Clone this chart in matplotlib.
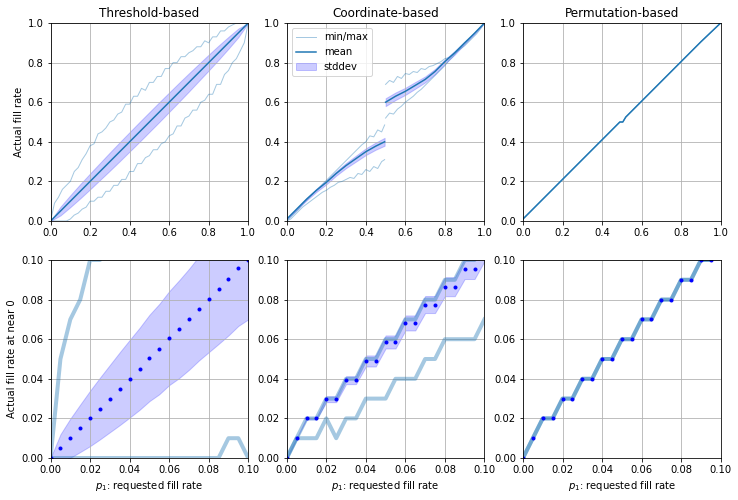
import matplotlib
matplotlib.use("Agg")
import matplotlib.pyplot as plt

# ---- top row: full range of requested fill rate ----
# threshold-based
thr_x = [0.0, 0.05, 0.1, 0.15, 0.2, 0.25, 0.3, 0.35, 0.4, 0.45, 0.5,
         0.55, 0.6, 0.65, 0.7, 0.75, 0.8, 0.85, 0.9, 0.95, 1.0]
thr_mean = [0.0, 0.05, 0.1, 0.15, 0.2, 0.25, 0.3, 0.35, 0.4, 0.45, 0.5,
            0.55, 0.6, 0.65, 0.7, 0.75, 0.8, 0.85, 0.9, 0.95, 1.0]
thr_std = [0.0, 0.022, 0.03, 0.036, 0.04, 0.043, 0.046, 0.048, 0.049, 0.05, 0.05,
           0.05, 0.049, 0.048, 0.046, 0.043, 0.04, 0.036, 0.03, 0.022, 0.0]
mm_x = [0.0, 0.02, 0.04, 0.06, 0.08, 0.1, 0.12, 0.14, 0.16, 0.18, 0.2, 0.22, 0.24,
        0.26, 0.28, 0.3, 0.32, 0.34, 0.36, 0.38, 0.4, 0.42, 0.44, 0.46, 0.48, 0.5,
        0.52, 0.54, 0.56, 0.58, 0.6, 0.62, 0.64, 0.66, 0.68, 0.7, 0.72, 0.74, 0.76,
        0.78, 0.8, 0.82, 0.84, 0.86, 0.88, 0.9, 0.92, 0.94, 0.96, 0.98, 1.0]
thr_max = [0.0, 0.09, 0.12, 0.16, 0.18, 0.2, 0.25, 0.27, 0.31, 0.34, 0.38, 0.39, 0.44,
           0.45, 0.47, 0.5, 0.51, 0.54, 0.55, 0.59, 0.59, 0.63, 0.63, 0.67, 0.66, 0.7,
           0.7, 0.73, 0.73, 0.77, 0.77, 0.8, 0.8, 0.83, 0.83, 0.85, 0.86, 0.88, 0.88,
           0.91, 0.9, 0.93, 0.93, 0.96, 0.96, 0.98, 0.99, 1.0, 1.0, 1.0, 1.0]
thr_min = [0.0, 0.0, 0.0, 0.0, 0.0, 0.01, 0.03, 0.04, 0.06, 0.07, 0.1, 0.1, 0.12,
           0.12, 0.15, 0.15, 0.18, 0.18, 0.21, 0.21, 0.25, 0.25, 0.29, 0.29, 0.32, 0.33,
           0.36, 0.36, 0.39, 0.4, 0.43, 0.44, 0.48, 0.48, 0.52, 0.53, 0.56, 0.56, 0.6,
           0.61, 0.64, 0.64, 0.69, 0.69, 0.74, 0.76, 0.8, 0.82, 0.86, 0.9, 1.0]

# coordinate-based, two pieces split at 0.5
crd_x1 = [0.0, 0.05, 0.1, 0.15, 0.2, 0.25, 0.3, 0.35, 0.4, 0.45, 0.495]
crd_mean1 = [0.01, 0.06, 0.11, 0.155, 0.195, 0.24, 0.28, 0.315, 0.35, 0.378, 0.4]
crd_std1 = [0.002, 0.004, 0.006, 0.008, 0.01, 0.011, 0.013, 0.015, 0.017, 0.018, 0.02]
crd_x2 = [0.5, 0.55, 0.6, 0.65, 0.7, 0.75, 0.8, 0.85, 0.9, 0.95, 1.0]
crd_mean2 = [0.6, 0.63, 0.655, 0.685, 0.715, 0.755, 0.805, 0.85, 0.9, 0.948, 1.0]
crd_std2 = [0.02, 0.019, 0.018, 0.017, 0.015, 0.013, 0.011, 0.009, 0.006, 0.003, 0.0]
crd_mx1 = [0.0, 0.02, 0.04, 0.06, 0.08, 0.1, 0.12, 0.14, 0.16, 0.18, 0.2, 0.22, 0.24,
           0.26, 0.28, 0.3, 0.32, 0.34, 0.36, 0.38, 0.4, 0.42, 0.44, 0.46, 0.48, 0.495]
crd_max1 = [0.0, 0.02, 0.04, 0.06, 0.085, 0.105, 0.125, 0.145, 0.165, 0.185, 0.205,
            0.225, 0.245, 0.265, 0.285, 0.305, 0.325, 0.345, 0.365, 0.385, 0.4, 0.43,
            0.425, 0.46, 0.45, 0.485]
crd_min1 = [0.0, 0.01, 0.03, 0.05, 0.07, 0.085, 0.1, 0.115, 0.13, 0.145, 0.155, 0.17,
            0.18, 0.195, 0.2, 0.21, 0.22, 0.215, 0.24, 0.235, 0.26, 0.25, 0.275, 0.265,
            0.3, 0.31]
crd_mx2 = [0.5, 0.52, 0.54, 0.56, 0.58, 0.6, 0.62, 0.64, 0.66, 0.68, 0.7, 0.72, 0.74,
           0.76, 0.78, 0.8, 0.82, 0.84, 0.86, 0.88, 0.9, 0.92, 0.94, 0.96, 0.98, 1.0]
crd_max2 = [0.69, 0.71, 0.7, 0.73, 0.72, 0.745, 0.74, 0.755, 0.75, 0.77, 0.765, 0.78,
            0.785, 0.795, 0.805, 0.82, 0.825, 0.84, 0.855, 0.87, 0.885, 0.905, 0.925,
            0.945, 0.97, 1.0]
crd_min2 = [0.52, 0.545, 0.54, 0.565, 0.58, 0.6, 0.615, 0.63, 0.65, 0.665, 0.685, 0.705,
            0.725, 0.745, 0.765, 0.785, 0.81, 0.83, 0.855, 0.875, 0.895, 0.915, 0.94,
            0.96, 0.98, 1.0]

# permutation-based (min = max = mean, std = 0)
prm_x = [0.0, 0.1, 0.2, 0.3, 0.4, 0.48, 0.49, 0.505, 0.52, 0.6, 0.7, 0.8, 0.9, 1.0]
prm_mean = [0.01, 0.11, 0.21, 0.31, 0.41, 0.49, 0.5, 0.5, 0.525, 0.605, 0.705,
            0.805, 0.905, 1.0]

# ---- bottom row: zoom near 0 ----
near_x = [0.0, 0.005, 0.01, 0.015, 0.02, 0.025, 0.03, 0.035, 0.04, 0.045, 0.05,
          0.055, 0.06, 0.065, 0.07, 0.075, 0.08, 0.085, 0.09, 0.095, 0.1]
thr_near_mean = [0.0, 0.005, 0.01, 0.015, 0.02, 0.025, 0.03, 0.035, 0.04, 0.045, 0.0505,
                 0.055, 0.0605, 0.065, 0.07, 0.0755, 0.0805, 0.0855, 0.0905, 0.096, 0.1]
thr_near_std = [0.0, 0.007, 0.0099, 0.012, 0.014, 0.0156, 0.017, 0.0184, 0.0196, 0.0207,
                0.0218, 0.0228, 0.0237, 0.0247, 0.0255, 0.0263, 0.0271, 0.0279, 0.0286,
                0.0293, 0.03]
thr_near_max = [0.0, 0.05, 0.07, 0.08, 0.1, 0.1, 0.12, 0.12, 0.13, 0.13, 0.14, 0.14,
                0.15, 0.15, 0.16, 0.17, 0.17, 0.18, 0.18, 0.19, 0.2]
thr_near_min = [0.0, 0.0, 0.0, 0.0, 0.0, 0.0, 0.0, 0.0, 0.0, 0.0, 0.0, 0.0, 0.0, 0.0,
                0.0, 0.0, 0.0, 0.0, 0.01, 0.01, 0.0]

crd_near_mean = [0.0, 0.01, 0.02, 0.02, 0.0297, 0.0297, 0.0393, 0.0393, 0.049, 0.049,
                 0.0586, 0.0586, 0.0682, 0.0682, 0.0775, 0.0775, 0.0865, 0.0865, 0.0956,
                 0.0956, 0.105]
crd_near_std = [0.0, 0.0, 0.0005, 0.0005, 0.0015, 0.0015, 0.002, 0.002, 0.0028, 0.0028,
                0.0033, 0.0033, 0.0038, 0.0038, 0.0043, 0.0043, 0.0048, 0.0048, 0.0052,
                0.0052, 0.0056]
crd_near_max = [0.0, 0.01, 0.02, 0.02, 0.03, 0.03, 0.04, 0.04, 0.05, 0.05, 0.06, 0.06,
                0.07, 0.07, 0.08, 0.08, 0.09, 0.09, 0.1, 0.1, 0.11]
crd_near_min = [0.0, 0.01, 0.01, 0.01, 0.02, 0.01, 0.02, 0.02, 0.03, 0.03, 0.03, 0.04,
                0.04, 0.04, 0.05, 0.05, 0.06, 0.06, 0.06, 0.06, 0.07]

prm_near_mean = [0.0, 0.01, 0.02, 0.02, 0.03, 0.03, 0.04, 0.04, 0.05, 0.05, 0.06, 0.06,
                 0.07, 0.07, 0.08, 0.08, 0.09, 0.09, 0.1, 0.1, 0.11]

titles = ["Threshold-based", "Coordinate-based", "Permutation-based"]


def band(mean, std, sign):
    return [m + sign * s for m, s in zip(mean, std)]


fig, axes = plt.subplots(2, 3, figsize=(738 / 72, 500 / 72), dpi=72)
fig.subplots_adjust(left=0.0685, right=0.9765, top=0.954, bottom=0.084,
                    wspace=0.195, hspace=0.197)

# top row
ax = axes[0, 0]
ax.plot(mm_x, thr_max, color="C0", alpha=0.4, lw=1)
ax.plot(mm_x, thr_min, color="C0", alpha=0.4, lw=1)
ax.plot(thr_x, thr_mean, color="C0", lw=1.5)
ax.fill_between(thr_x, band(thr_mean, thr_std, -1), band(thr_mean, thr_std, 1),
                color="blue", alpha=0.2)

ax = axes[0, 1]
ax.plot(crd_mx1, crd_max1, color="C0", alpha=0.4, lw=1, label="min/max")
ax.plot(crd_mx1, crd_min1, color="C0", alpha=0.4, lw=1)
ax.plot(crd_mx2, crd_max2, color="C0", alpha=0.4, lw=1)
ax.plot(crd_mx2, crd_min2, color="C0", alpha=0.4, lw=1)
ax.plot(crd_x1, crd_mean1, color="C0", lw=1.5, label="mean")
ax.plot(crd_x2, crd_mean2, color="C0", lw=1.5)
ax.fill_between(crd_x1, band(crd_mean1, crd_std1, -1), band(crd_mean1, crd_std1, 1),
                color="blue", alpha=0.2, label="stddev")
ax.fill_between(crd_x2, band(crd_mean2, crd_std2, -1), band(crd_mean2, crd_std2, 1),
                color="blue", alpha=0.2)
ax.legend(loc="upper left")

ax = axes[0, 2]
ax.plot(prm_x, prm_mean, color="C0", alpha=0.4, lw=1)
ax.plot(prm_x, prm_mean, color="C0", alpha=0.4, lw=1)
ax.plot(prm_x, prm_mean, color="C0", lw=1.5)

for j in range(3):
    axes[0, j].set_title(titles[j])
    axes[0, j].set_xlim(0, 1)
    axes[0, j].set_ylim(0, 1)
    axes[0, j].grid(True)
axes[0, 0].set_ylabel("Actual fill rate")

# bottom row
ax = axes[1, 0]
ax.plot(near_x, thr_near_max, color="C0", alpha=0.4, lw=4)
ax.plot(near_x, thr_near_min, color="C0", alpha=0.4, lw=4)
ax.fill_between(near_x, band(thr_near_mean, thr_near_std, -1),
                band(thr_near_mean, thr_near_std, 1), color="blue", alpha=0.2)
ax.plot(near_x, thr_near_mean, "b.")

ax = axes[1, 1]
ax.plot(near_x, crd_near_max, color="C0", alpha=0.4, lw=4)
ax.plot(near_x, crd_near_min, color="C0", alpha=0.4, lw=4)
ax.fill_between(near_x, band(crd_near_mean, crd_near_std, -1),
                band(crd_near_mean, crd_near_std, 1), color="blue", alpha=0.2)
ax.plot(near_x, crd_near_mean, "b.")

ax = axes[1, 2]
ax.plot(near_x, prm_near_mean, color="C0", alpha=0.4, lw=4)
ax.plot(near_x, prm_near_mean, color="C0", alpha=0.4, lw=4)
ax.plot(near_x, prm_near_mean, "b.")

for j in range(3):
    axes[1, j].set_xlim(0, 0.1)
    axes[1, j].set_ylim(0, 0.1)
    axes[1, j].grid(True)
    axes[1, j].set_xlabel("$p_1$: requested fill rate")
axes[1, 0].set_ylabel("Actual fill rate at near 0")

fig.savefig("out.png", dpi=72)
